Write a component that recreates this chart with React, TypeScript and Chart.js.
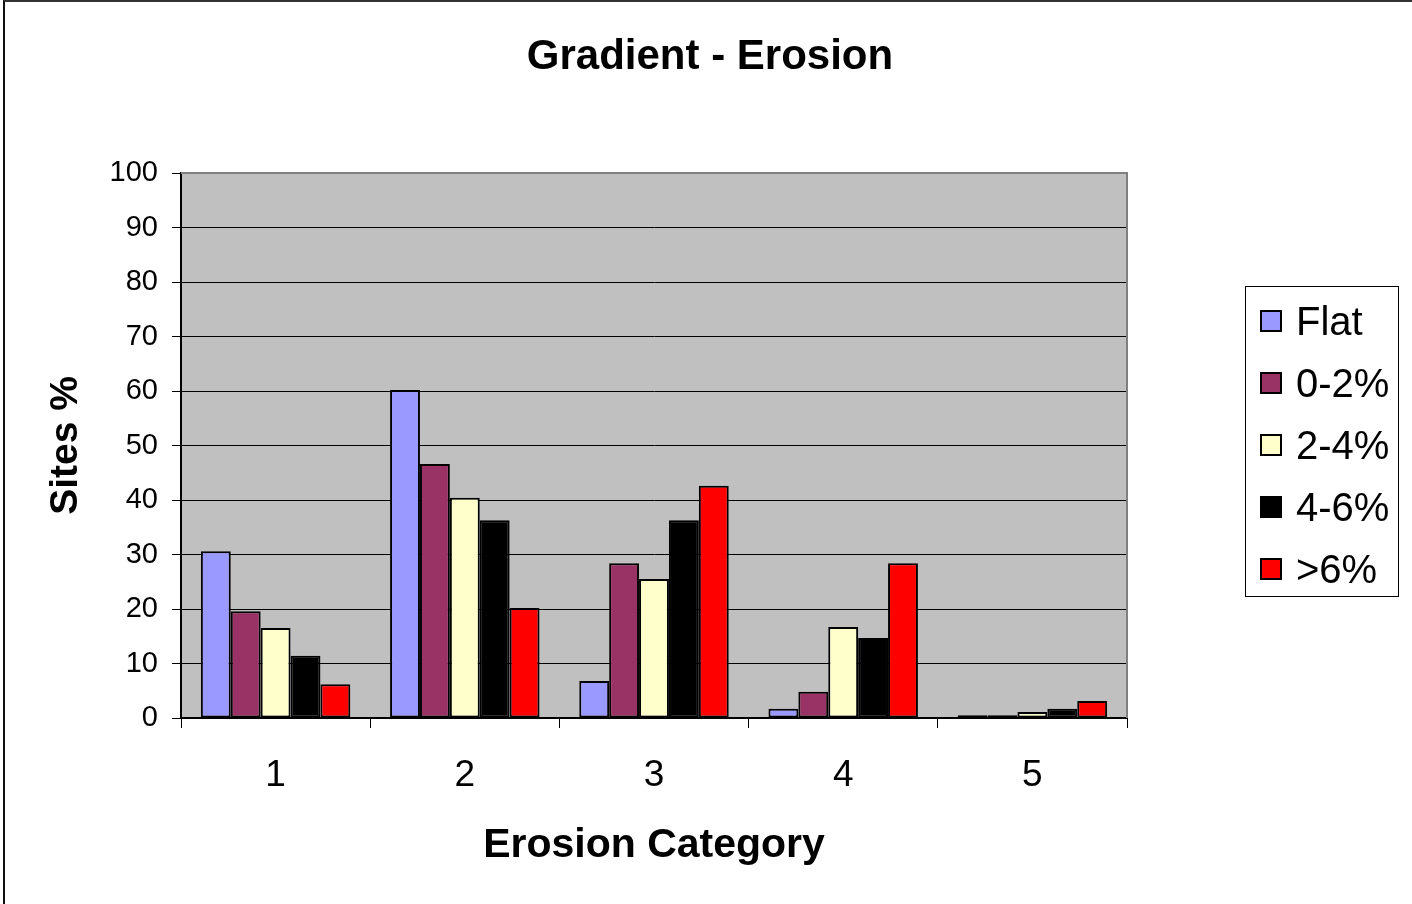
import React, { useEffect, useRef } from "react";
import { Chart, registerables } from "chart.js";

Chart.register(...registerables);

const categories = ["1", "2", "3", "4", "5"];
const seriesNames = ["Flat", "0-2%", "2-4%", "4-6%", ">6%"];
const flat = [30.6, 60.2, 6.8, 1.7, 0.5];
const slope0to2 = [19.6, 46.6, 28.4, 4.8, 0.5];
const slope2to4 = [16.5, 40.4, 25.5, 16.7, 1.1];
const slope4to6 = [11.4, 36.3, 36.3, 14.7, 1.7];
const slopeOver6 = [6.2, 20.2, 42.6, 28.4, 3.1];
const seriesColors = ["#9999ff", "#993366", "#ffffcc", "#000000", "#ff0000"];
const yTicks = [0, 10, 20, 30, 40, 50, 60, 70, 80, 90, 100];
const chartTitle = "Gradient - Erosion";

const FONT = "'Liberation Sans', Arial, sans-serif";

const plotBg = {
  id: "plotBg",
  beforeDraw(chart: any) {
    const { ctx, chartArea } = chart;
    ctx.save();
    ctx.fillStyle = "#c0c0c0";
    ctx.fillRect(chartArea.left, chartArea.top, chartArea.right - chartArea.left, chartArea.bottom - chartArea.top);
    ctx.restore();
  },
  afterDatasetsDraw(chart: any) {
    const { ctx, chartArea } = chart;
    ctx.save();
    ctx.strokeStyle = "#808080";
    ctx.lineWidth = 2;
    ctx.beginPath();
    ctx.moveTo(chartArea.left, chartArea.top);
    ctx.lineTo(chartArea.right, chartArea.top);
    ctx.lineTo(chartArea.right, chartArea.bottom);
    ctx.stroke();
    ctx.restore();
  },
};

export default function App() {
  const ref = useRef<HTMLCanvasElement>(null);
  useEffect(() => {
    const all = [flat, slope0to2, slope2to4, slope4to6, slopeOver6];
    const chart = new Chart(ref.current!, {
      type: "bar",
      data: {
        labels: categories,
        datasets: all.map((d, i) => ({
          label: seriesNames[i],
          data: d,
          backgroundColor: seriesColors[i],
          borderColor: "#000000",
          borderWidth: 2,
          borderSkipped: false,
          categoryPercentage: 0.79,
          barPercentage: 1,
        })),
      },
      options: {
        animation: false,
        responsive: false,
        maintainAspectRatio: false,
        layout: { padding: { left: 0, right: 285, top: 173, bottom: 0 } },
        plugins: {
          legend: { display: false },
          tooltip: { enabled: false },
          title: { display: false },
        },
        scales: {
          x: {
            offset: true,
            grid: {
              offset: true,
              drawOnChartArea: false,
              drawTicks: true,
              tickLength: 10,
              color: "#000",
              lineWidth: 1,
            },
            border: { display: true, color: "#000", width: 2 },
            ticks: {
              color: "#000",
              font: { family: FONT, size: 37 },
              padding: 26,
            },
            title: {
              display: true,
              text: "Erosion Category",
              color: "#000",
              font: { family: FONT, size: 41, weight: "bold", lineHeight: 1.2 },
              padding: { top: 0, bottom: 34 },
            },
            afterFit(scale: any) {
              scale.height = 186;
            },
          },
          y: {
            min: 0,
            max: 100,
            afterBuildTicks(scale: any) {
              scale.ticks = yTicks.map((v) => ({ value: v }));
            },
            grid: {
              color: (c: any) => (c.tick && c.tick.value === 100 ? "#808080" : "#000"),
              lineWidth: 1,
              tickLength: 9,
              tickColor: "#000",
            },
            border: { display: true, color: "#000", width: 2 },
            ticks: {
              color: "#000",
              font: { family: FONT, size: 29 },
              padding: 14,
            },
            title: {
              display: true,
              text: "Sites %",
              color: "#000",
              font: { family: FONT, size: 39, weight: "bold", lineHeight: 1.2 },
              padding: { top: 43, bottom: 0 },
            },
            afterFit(scale: any) {
              scale.width = 181;
            },
          },
        },
      },
      plugins: [plotBg],
    });
    return () => chart.destroy();
  }, []);

  return (
    <div style={{ position: "absolute", left: 0, top: 0, width: 1412, height: 904, background: "#fff" }}>
      <canvas ref={ref} width={1412} height={904} style={{ position: "absolute", left: 0, top: 0 }} />
      <div
        style={{
          position: "absolute",
          left: 410,
          width: 600,
          top: 30,
          height: 50,
          lineHeight: "50px",
          textAlign: "center",
          fontFamily: FONT,
          fontWeight: "bold",
          fontSize: 42,
          color: "#000",
          whiteSpace: "nowrap",
        }}
      >
        {chartTitle}
      </div>
      <div
        style={{
          position: "absolute",
          left: 3,
          top: 0,
          width: 1409,
          height: 904,
          borderTop: "2px solid #333",
          borderLeft: "2px solid #111",
          boxSizing: "border-box",
          pointerEvents: "none",
        }}
      />
      <div
        style={{
          position: "absolute",
          left: 1245,
          top: 286,
          width: 154,
          height: 311,
          border: "1px solid #000",
          boxSizing: "border-box",
          background: "#fff",
          fontFamily: FONT,
        }}
      >
        {seriesNames.map((n, i) => (
          <div
            key={n}
            style={{
              position: "absolute",
              left: 14,
              top: 12 + i * 62,
              height: 44,
              display: "flex",
              alignItems: "center",
              fontSize: 40,
              whiteSpace: "nowrap",
              color: "#000",
            }}
          >
            <span
              style={{
                display: "inline-block",
                width: 22,
                height: 22,
                boxSizing: "border-box",
                border: "2px solid #000",
                background: seriesColors[i],
                marginRight: 14,
              }}
            />
            {n}
          </div>
        ))}
      </div>
    </div>
  );
}
